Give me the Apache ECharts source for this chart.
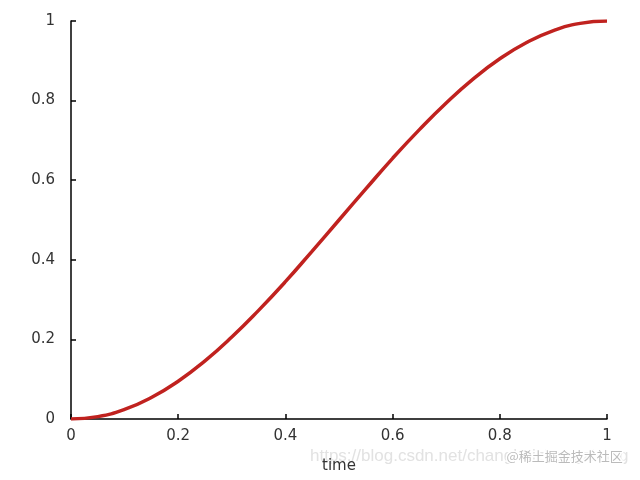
<!DOCTYPE html>
<html>
<head>
<meta charset="utf-8">
<script src="https://cdn.jsdelivr.net/npm/echarts@6/dist/echarts.min.js"></script>
<style>
  html, body { margin: 0; padding: 0; background: #fff; }
  #chart { width: 640px; height: 480px; }
</style>
</head>
<body>
<div id="chart"></div>
<script>
// values
const times = [0, 0.05, 0.1, 0.15, 0.2, 0.25, 0.3, 0.35, 0.4, 0.45, 0.5,
               0.55, 0.6, 0.65, 0.7, 0.75, 0.8, 0.85, 0.9, 0.95, 1];
const progress = [0, 0.006, 0.024, 0.054, 0.095, 0.146, 0.206, 0.273, 0.345, 0.422, 0.5,
                  0.578, 0.655, 0.727, 0.794, 0.854, 0.905, 0.946, 0.976, 0.994, 1];
const xLabel = 'time';

const labelFont = 'DejaVu Sans';
const chart = echarts.init(document.getElementById('chart'));

const axisCommon = {
    type: 'value',
    min: 0,
    max: 1,
    interval: 0.2,
    splitLine: { show: false },
    axisLine: { show: true, onZero: false, lineStyle: { color: '#000', width: 1.5 } },
    axisTick: { show: true, inside: true, length: 5, lineStyle: { color: '#000', width: 1.5 } },
    axisLabel: {
        color: '#333',
        fontFamily: labelFont,
        fontSize: 15,
        formatter: v => String(+v.toFixed(1))
    }
};

chart.setOption({
    animation: false,
    grid: { left: 71, right: 33, top: 21, bottom: 61, containLabel: false },
    xAxis: Object.assign({}, axisCommon, {
        name: xLabel,
        nameLocation: 'center',
        nameGap: 40,
        nameTextStyle: { color: '#333', fontFamily: labelFont, fontSize: 15 },
        axisLabel: Object.assign({}, axisCommon.axisLabel, { margin: 10 })
    }),
    yAxis: Object.assign({}, axisCommon, {
        axisLabel: Object.assign({}, axisCommon.axisLabel, { margin: 16 })
    }),
    series: [{
        type: 'line',
        data: times.map((t, i) => [t, progress[i]]),
        smooth: true,
        showSymbol: false,
        lineStyle: { color: '#c0221f', width: 3.5 }
    }],
    graphic: [
        {
            type: 'text',
            left: 310,
            top: 448,
            z: -1,
            style: {
                text: 'https://blog.csdn.net/changhaizhongzhang',
                fill: '#e2e2e2',
                font: '17px "Liberation Sans"'
            }
        },
        {
            type: 'text',
            left: 505,
            top: 448,
            style: {
                text: '@稀土掘金技术社区',
                fill: '#bbbbbb',
                stroke: '#fff',
                lineWidth: 3,
                font: '13px "Noto Sans CJK SC"'
            }
        }
    ]
});
</script>
</body>
</html>
